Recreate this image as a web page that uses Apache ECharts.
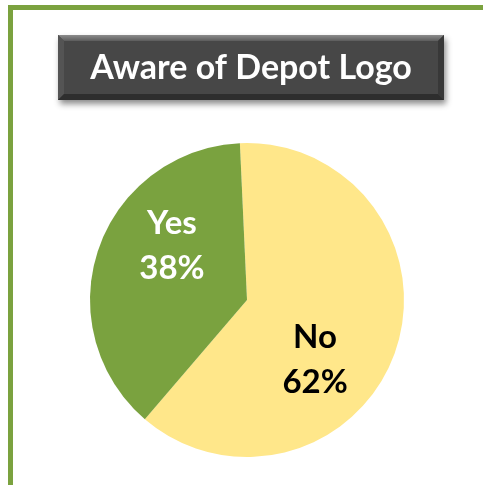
<!DOCTYPE html>
<html>
<head>
<meta charset="utf-8">
<script src="https://cdn.jsdelivr.net/npm/echarts@6/dist/echarts.min.js"></script>
<style>
  html, body { margin: 0; padding: 0; background: #ffffff; }
  #chart { width: 483px; height: 485px; }
</style>
</head>
<body>
<div id="chart"></div>
<script>
// Survey answers: share of respondents aware of the depot logo
const titleText = 'Aware of Depot Logo';
const answers = ['No', 'Yes'];
const shares = [62, 38];
const sliceColors = ['#FFE78A', '#7AA23F'];
const labelColors = ['#000000', '#ffffff'];
// nudges that move each label off the slice's mid-radius point
const labelNudges = [[-9, 33], [2, -28]];

const chart = echarts.init(document.getElementById('chart'), null, { renderer: 'canvas' });

const BOX = { x: 58, y: 35, w: 386, h: 65, b: 6 };
const bx2 = BOX.x + BOX.w, by2 = BOX.y + BOX.h;

chart.setOption({
  animation: false,
  backgroundColor: '#ffffff',
  graphic: [
    {
      type: 'rect', silent: true, z: 1,
      shape: { x: 10.5, y: 7.5, width: 700, height: 700 },
      style: { fill: 'none', stroke: '#7BA23F', lineWidth: 5 }
    },
    {
      type: 'rect', silent: true, z: 2,
      shape: { x: BOX.x, y: BOX.y, width: BOX.w, height: BOX.h },
      style: {
        fill: '#474747',
        shadowBlur: 6, shadowOffsetX: 2, shadowOffsetY: 4,
        shadowColor: 'rgba(0,0,0,0.45)'
      }
    },
    {
      type: 'polygon', silent: true, z: 3,
      shape: { points: [[BOX.x, BOX.y], [bx2, BOX.y], [bx2 - BOX.b, BOX.y + BOX.b], [BOX.x + BOX.b, BOX.y + BOX.b]] },
      style: {
        fill: new echarts.graphic.LinearGradient(0, 0, 0, 1, [
          { offset: 0, color: '#8c8c8c' }, { offset: 1, color: '#5c5c5c' }
        ])
      }
    },
    {
      type: 'polygon', silent: true, z: 3,
      shape: { points: [[BOX.x, BOX.y], [BOX.x + BOX.b, BOX.y + BOX.b], [BOX.x + BOX.b, by2 - BOX.b], [BOX.x, by2]] },
      style: { fill: '#545454' }
    },
    {
      type: 'polygon', silent: true, z: 3,
      shape: { points: [[bx2, BOX.y], [bx2, by2], [bx2 - BOX.b, by2 - BOX.b], [bx2 - BOX.b, BOX.y + BOX.b]] },
      style: { fill: '#383838' }
    },
    {
      type: 'polygon', silent: true, z: 3,
      shape: { points: [[BOX.x, by2], [bx2, by2], [bx2 - BOX.b, by2 - BOX.b], [BOX.x + BOX.b, by2 - BOX.b]] },
      style: { fill: '#2e2e2e' }
    },
    {
      type: 'text', silent: true, z: 4,
      x: BOX.x + BOX.w / 2, y: BOX.y + BOX.h / 2 + 1,
      style: {
        text: titleText,
        fill: '#ffffff',
        font: 'bold 34px Lato, "Open Sans", sans-serif',
        align: 'center', verticalAlign: 'middle'
      }
    }
  ],
  series: [
    {
      type: 'pie',
      center: [247, 300],
      radius: [0, 157],
      startAngle: 92.6,
      clockwise: true,
      silent: true,
      label: {
        show: true,
        position: 'inside',
        formatter: '{b}\n{c}%',
        fontFamily: 'Lato, "Open Sans", sans-serif',
        fontWeight: 'bold',
        fontSize: 33,
        lineHeight: 45,
        align: 'center'
      },
      labelLine: { show: false },
      labelLayout: function (params) {
        const n = labelNudges[params.dataIndex];
        return { dx: n[0], dy: n[1] };
      },
      itemStyle: { borderWidth: 0 },
      data: answers.map((name, i) => ({
        name: name,
        value: shares[i],
        itemStyle: { color: sliceColors[i] },
        label: { color: labelColors[i] }
      }))
    }
  ]
});
</script>
</body>
</html>
